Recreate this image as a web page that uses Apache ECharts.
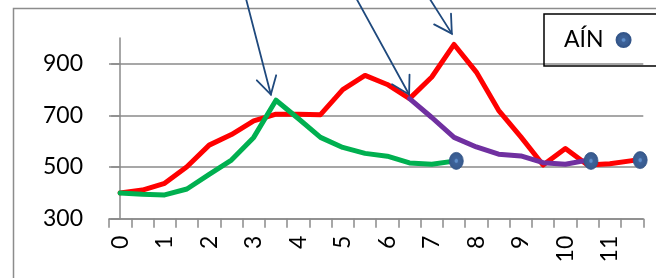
<!DOCTYPE html>
<html>
<head>
<meta charset="utf-8">
<script src="https://cdn.jsdelivr.net/npm/echarts@6/dist/echarts.min.js"></script>
<style>
html,body{margin:0;padding:0;background:#fff;}
#c{width:656px;height:278px;}
</style>
</head>
<body>
<div id="c"></div>
<script>
// categories (half steps), labels shown every other category
const categories = ['0','0.5','1','1.5','2','2.5','3','3.5','4','4.5','5','5.5','6','6.5','7','7.5','8','8.5','9','9.5','10','10.5','11','11.5'];
const yTicks = [300, 500, 700, 900];
const redValues = [400,411,437,501,585,626,679,705,705,703,800,855,820,765,849,975,868,720,617,508,572,508,513,525];
const greenValues = [400,395,392,415,472,527,615,759,688,615,576,553,542,516,511,523,null,null,null,null,null,null,null,null];
const purpleValues = [null,null,null,null,null,null,null,null,null,null,null,null,null,765,692,615,578,550,543,517,511,527,null,null];
// marker positions (in category units on a hidden value axis)
const markerX = [15.1, 21.15, 23.36];
const markerY = [524, 524, 527];
const markerName = 'AÍN';
// annotation arrows: [fromX, fromY, toX, toY] in data units
const arrows = [
  [5.66, 1150, 6.77, 781],
  [10.63, 1150, 12.98, 781],
  [13.92, 1150, 14.9, 1017]
];

const FONT = 'Lato';
const GRAY = '#8a8a8a';
const markerFill = {
  type: 'radial', x: 0.5, y: 0.5, r: 0.5,
  colorStops: [
    {offset: 0, color: '#5f8fcb'},
    {offset: 0.15, color: '#5f8fcb'},
    {offset: 0.3, color: '#3d6299'},
    {offset: 1, color: '#37598b'}
  ]
};

const chart = echarts.init(document.getElementById('c'), null, {renderer: 'canvas'});

const lineStyleBase = {width: 5, cap: 'round', join: 'round'};

const option = {
  animation: false,
  backgroundColor: '#ffffff',
  graphic: [{
    type: 'rect',
    shape: {x: 13.5, y: 8.5, width: 700, height: 320},
    style: {fill: 'none', stroke: '#8c8c8c', lineWidth: 1.5},
    z: -1
  }],
  grid: {left: 109, right: 12.7, top: 38, bottom: 59.3, containLabel: false},
  legend: {
    data: [{name: markerName, icon: 'circle'}],
    left: 544,
    top: 14,
    align: 'right',
    itemWidth: 14,
    itemHeight: 16,
    padding: [12, 80, 12, 20],
    borderColor: '#000',
    borderWidth: 1.5,
    textStyle: {fontFamily: FONT, fontSize: 23, color: '#000', lineHeight: 28, padding: [0, 8, 0, 0]}
  },
  xAxis: [{
    type: 'category',
    data: categories,
    boundaryGap: true,
    axisLine: {lineStyle: {color: GRAY, width: 1.5}},
    axisTick: {show: true, interval: 0, length: 9, lineStyle: {color: GRAY, width: 1.5}},
    axisLabel: {interval: 1, rotate: 90, margin: 17, fontFamily: FONT, fontSize: 23, color: '#000'},
    splitLine: {show: false}
  }, {
    type: 'value',
    show: false,
    min: -0.5,
    max: 23.5
  }],
  yAxis: {
    type: 'value',
    min: 300,
    max: 1000,
    interval: 200,
    axisLine: {show: true, lineStyle: {color: GRAY, width: 1.5}},
    axisTick: {show: true, length: 9, customValues: yTicks, lineStyle: {color: GRAY, width: 1.5}},
    axisLabel: {customValues: yTicks, margin: 26, fontFamily: FONT, fontSize: 23, color: '#000'},
    splitLine: {show: true, lineStyle: {color: GRAY, width: 1.5}}
  },
  series: [
    {
      name: 'red', type: 'line', data: redValues, showSymbol: false, symbol: 'none',
      lineStyle: Object.assign({color: '#ff0000'}, lineStyleBase), z: 2
    },
    {
      name: 'purple', type: 'line', data: purpleValues, showSymbol: false, symbol: 'none', connectNulls: false,
      lineStyle: Object.assign({color: '#7030a0'}, lineStyleBase), z: 3
    },
    {
      name: 'green', type: 'line', data: greenValues, showSymbol: false, symbol: 'none', connectNulls: false,
      lineStyle: Object.assign({color: '#00b050'}, lineStyleBase), z: 4
    },
    {
      name: markerName, type: 'scatter', xAxisIndex: 1,
      data: markerX.map((x, i) => [x, markerY[i]]),
      symbol: 'circle', symbolSize: [14, 17],
      itemStyle: {color: markerFill, borderColor: '#34568a', borderWidth: 0.8, opacity: 1},
      z: 6
    },
    {
      name: 'arrows', type: 'custom', xAxisIndex: 1, clip: false,
      data: arrows,
      encode: {x: [0, 2], y: [1, 3]},
      renderItem: function (params, api) {
        const p0 = api.coord([api.value(0), api.value(1)]);
        const p1 = api.coord([api.value(2), api.value(3)]);
        const dx = p0[0] - p1[0], dy = p0[1] - p1[1];
        const len = Math.sqrt(dx * dx + dy * dy);
        const ux = dx / len, uy = dy / len;
        const hl = 20, a = Math.PI / 6;
        const c = Math.cos(a), s = Math.sin(a);
        const w1 = [p1[0] + hl * (ux * c - uy * s), p1[1] + hl * (ux * s + uy * c)];
        const w2 = [p1[0] + hl * (ux * c + uy * s), p1[1] + hl * (-ux * s + uy * c)];
        const st = {stroke: '#1f497d', lineWidth: 1.8, fill: null, lineCap: 'round', lineJoin: 'miter'};
        return {
          type: 'group',
          children: [
            {type: 'line', shape: {x1: p0[0], y1: p0[1], x2: p1[0], y2: p1[1]}, style: st},
            {type: 'polyline', shape: {points: [w1, p1, w2]}, style: st}
          ]
        };
      },
      z: 7
    }
  ]
};
chart.setOption(option);
</script>
</body>
</html>
